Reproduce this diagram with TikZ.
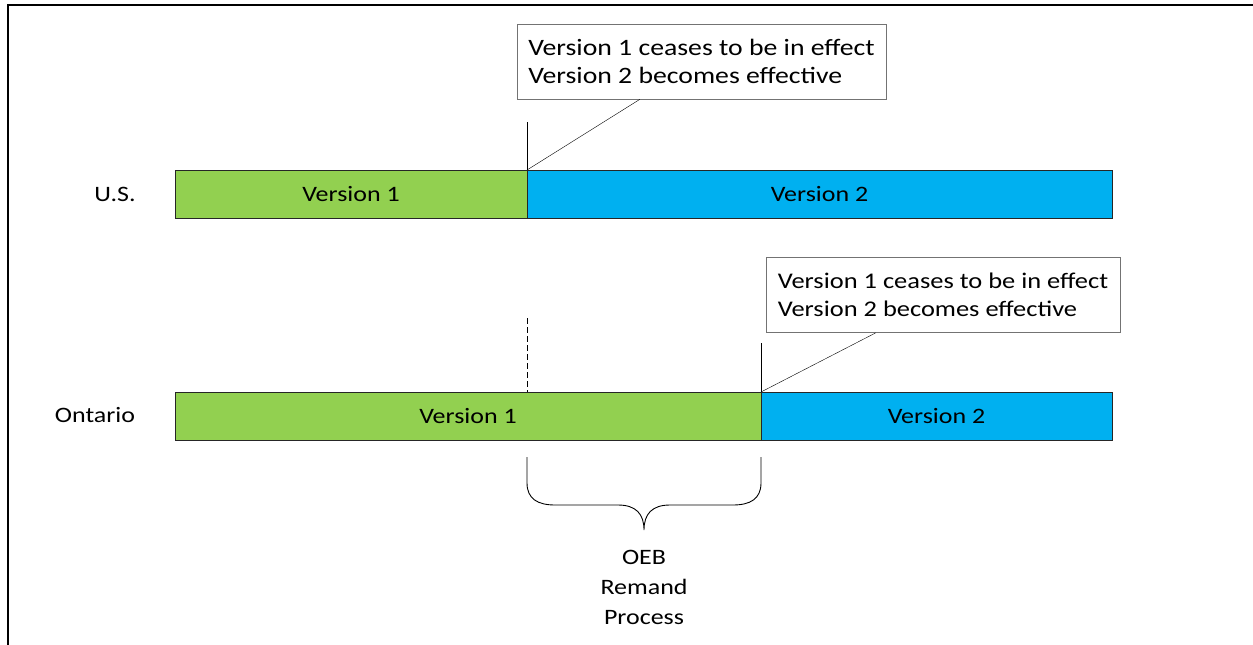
\documentclass[tikz,border=0pt]{standalone}
\usepackage{fontspec}
\setmainfont{Carlito}[FakeStretch=1.18]
\usetikzlibrary{calc}
\usetikzlibrary{positioning}
\definecolor{vonegreen}{HTML}{92D050}
\definecolor{vtwoblue}{HTML}{00B0F0}

\begin{document}
\begin{tikzpicture}[x=1pt, y=-1pt, style={font=\fontsize{22}{29}\selectfont},
	bar/.style={draw=black!85, line width=0.8pt, minimum height=48pt, inner sep=0pt, outer sep=0pt},
	callout/.style={draw=black!55, line width=0.8pt, fill=white, align=left, minimum height=75pt, inner sep=0pt, font=\fontsize{23.5}{28.5}\selectfont}]
		
		\useasboundingbox (0,0) rectangle (1253,645);
		\draw[line width=2.2pt] (8,645) -- (8,5) -- (1253,5);
		
		\node[bar, fill=vonegreen, minimum width=352pt, anchor=north west] (USA1) at (175,170) {Version 1};
		\node[bar, fill=vtwoblue, minimum width=585pt, right=0pt of USA1] (USA2) {Version 2};
		\node[bar, fill=vonegreen, minimum width=586pt, below=174pt of USA1.south west, anchor=north west] (ONT1) {Version 1};
		\node[bar, fill=vtwoblue, minimum width=351pt, right=0pt of ONT1] (ONT2) {Version 2};
		\node (US) at (115,194) {U.S.};
		\node (ON) at (95,415) {Ontario};
		
		\node[callout, minimum width=369pt] (CALL1) at (701.5,61.5) {Version 1 ceases to be in effect\\Version 2 becomes effective};
		\node[callout, minimum width=354pt, font=\fontsize{22.4}{27.5}\selectfont] (CALL2) at (943,295) {Version 1 ceases to be in effect\\Version 2 becomes effective};
		\coordinate (T1) at (527,122);
		\coordinate (T2) at (761,343);
		\coordinate (D1) at (527,318);
		\draw (T1) -- (USA1.north east);
		\draw (USA1.north east) -- ($(CALL1.south west)!0.333!(CALL1.south east)$);
		\draw (T2) -- (ONT1.north east);
		\draw (ONT1.north east) -- ($(CALL2.south west)!0.31!(CALL2.south east)$);
		\draw[dash pattern=on 6pt off 3pt] (D1) -- (D1 |- ONT1.north);
		
		\coordinate (BL) at (527,457);
		\coordinate (BR) at (761,457);
		\coordinate (TIP) at (644,530);
		\draw[line width=0.9pt] (BL) -- ++(0,26) .. controls ++(0,16) and (538,505) .. (555,505) -- (618,505)
			.. controls (636,505) and (644,514) .. (TIP)
			.. controls (644,514) and (652,505) .. (670,505) -- (733,505)
			.. controls (750,505) and (761,499) .. (761,483) -- (BR);
		\node[align=center, font=\fontsize{22}{30}\selectfont] (OEB) at (644,587) {OEB\\Remand\\Process};
		\end{tikzpicture}
\end{document}
